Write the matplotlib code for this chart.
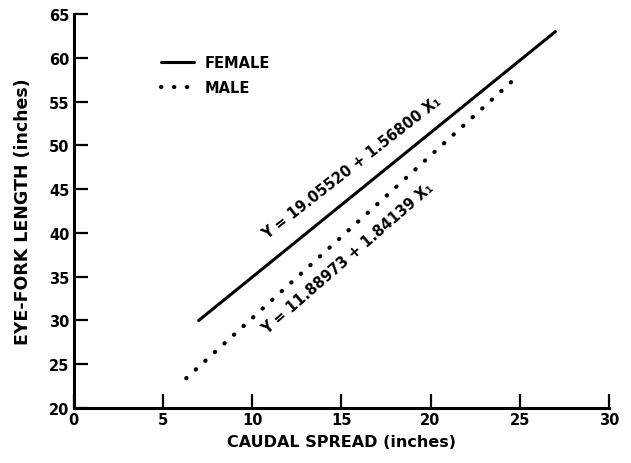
import matplotlib.pyplot as plt

# end points (inches)
female_x = [7.0, 27.0]
female_y = [30.0, 63.0]
male_x = [6.3, 24.8]
male_y = [23.4, 57.75]

female_eq = "Y = 19.05520 + 1.56800 X\u2081"
male_eq = "Y = 11.88973 + 1.84139 X\u2081"

xticks = [0, 5, 10, 15, 20, 25, 30]
yticks = [20, 25, 30, 35, 40, 45, 50, 55, 60, 65]

plt.rcParams['font.family'] = 'DejaVu Sans'
plt.rcParams['font.weight'] = 'bold'

fig = plt.figure(figsize=(6.31, 4.64), dpi=100)
ax = fig.add_axes([0.117, 0.1185, 0.848, 0.849])

ax.plot(female_x, female_y, color='black', lw=2.2, solid_capstyle='round',
        label='FEMALE')
ax.plot(male_x, male_y, color='black', lw=3.0, linestyle=(0, (0.1, 3.0)),
        dash_capstyle='round', label='MALE')

ax.text(15.6, 47.5, female_eq, rotation=38, ha='center', va='center',
        fontsize=10.5, fontweight='bold')
ax.text(15.35, 37.2, male_eq, rotation=41, ha='center', va='center',
        fontsize=10.5, fontweight='bold')

ax.set_xlim(0, 30)
ax.set_ylim(20, 65)
ax.set_xticks(xticks)
ax.set_yticks(yticks)
ax.tick_params(direction='in', length=10, width=1.6, labelsize=10.5, pad=3)
for lab in ax.get_xticklabels() + ax.get_yticklabels():
    lab.set_fontweight('bold')

for s in ['top', 'right']:
    ax.spines[s].set_visible(False)
for s in ['left', 'bottom']:
    ax.spines[s].set_linewidth(2.2)

ax.set_xlabel('CAUDAL SPREAD (inches)', fontsize=11.5, fontweight='bold', labelpad=5)
ax.set_ylabel('EYE-FORK LENGTH (inches)', fontsize=12.5, fontweight='bold', labelpad=12)

ax.legend(loc='upper left', bbox_to_anchor=(0.162, 0.895), frameon=False,
          borderpad=0, borderaxespad=0, handlelength=2.3, handletextpad=0.7,
          labelspacing=0.65, prop={'size': 10.5, 'weight': 'bold'})

fig.savefig('out.png', dpi=100)
